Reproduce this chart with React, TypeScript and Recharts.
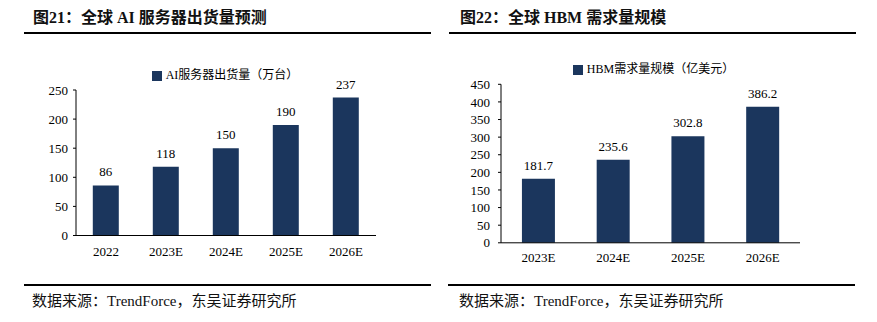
import React from "react";
import { BarChart, Bar, XAxis, YAxis, Legend, LabelList } from "recharts";

const NAVY = "#1B365D";
const SERIF = "'Liberation Serif', 'Times New Roman', 'Noto Sans CJK SC', serif";

// ── data ────────────────────────────────────────────────────────────────────
const serverYears = ["2022", "2023E", "2024E", "2025E", "2026E"];
const serverUnits = [86, 118, 150, 190, 237];
const serverTicks = [0, 50, 100, 150, 200, 250];

const hbmYears = ["2023E", "2024E", "2025E", "2026E"];
const hbmSize = [181.7, 235.6, 302.8, 386.2];
const hbmTicks = [0, 50, 100, 150, 200, 250, 300, 350, 400, 450];

const tickStyle = { fontSize: 13, fill: "#000", fontFamily: SERIF };

function Rule({ left, top, width }: { left: number; top: number; width: number }) {
  return <div style={{ position: "absolute", left, top, width, height: 2, background: "#000" }} />;
}

function Text({ left, top, size, bold, children }: any) {
  return (
    <div
      style={{
        position: "absolute", left, top, fontSize: size, lineHeight: `${size}px`,
        fontWeight: bold ? 700 : 400, color: "#111", whiteSpace: "nowrap", fontFamily: SERIF,
      }}
    >
      {children}
    </div>
  );
}

// ── one panel's bar chart ───────────────────────────────────────────────────
// "a" axis only draws the baseline + tick marks on category boundaries,
// "b" axis carries the category labels underneath it
function PanelChart({
  cats, values, ticks, name, width, height, margin, yWidth, yTickMargin, xTickMargin, legend,
}: {
  cats: string[]; values: number[]; ticks: number[]; name: string;
  width: number; height: number; margin: any; yWidth: number;
  yTickMargin: number; xTickMargin: number; legend: any;
}) {
  const data = cats.map((c, i) => ({ cat: c, v: values[i] }));
  const edges = [...cats.map((_, i) => i), cats.length];
  return (
    <BarChart width={width} height={height} data={data} margin={margin} barCategoryGap="28%">
      <XAxis
        xAxisId="b" dataKey="cat" height={30} axisLine={false} tickLine={false}
        tickSize={0} tickMargin={xTickMargin} tick={tickStyle} interval={0}
      />
      <XAxis
        xAxisId="a" type="number" domain={[0, cats.length]} ticks={edges} allowDataOverflow
        height={1} tick={false} tickSize={3} stroke="#000" tickLine={{ stroke: "#000" }}
      />
      <YAxis
        domain={[0, ticks[ticks.length - 1]]} ticks={ticks} width={yWidth} tickSize={3}
        tickMargin={yTickMargin} tick={tickStyle} stroke="#000" tickLine={{ stroke: "#000" }}
        interval={0}
      />
      <Legend
        verticalAlign="middle" align="center" layout="horizontal" iconType="square" iconSize={10}
        wrapperStyle={{ ...legend, fontSize: 12, fontFamily: SERIF }}
        formatter={(v: string) => <span style={{ color: "#000" }}>{v}</span>}
      />
      <Bar xAxisId="b" dataKey="v" name={name} fill={NAVY} isAnimationActive={false}>
        <LabelList dataKey="v" position="top" offset={9} fill="#000" fontSize={13} fontFamily={SERIF} />
      </Bar>
    </BarChart>
  );
}

export default function App() {
  return (
    <div
      style={{
        position: "absolute", left: 0, top: 0, width: 877, height: 322,
        background: "#fff", overflow: "hidden", fontFamily: SERIF,
      }}
    >
      <Text left={33} top={10} size={16} bold>图21：全球 AI 服务器出货量预测</Text>
      <Text left={460} top={10} size={16} bold>图22：全球 HBM 需求量规模</Text>
      <Rule left={24} top={32} width={407} />
      <Rule left={449} top={32} width={407} />

      <div style={{ position: "absolute", left: 0, top: 40 }}>
        <PanelChart
          cats={serverYears} values={serverUnits} ticks={serverTicks} name="AI服务器出货量（万台）"
          width={440} height={230} margin={{ top: 50, right: 64, bottom: 3.5, left: 0 }}
          yWidth={76} yTickMargin={5} xTickMargin={10.5}
          legend={{ top: 25, left: 80, width: 300 }}
        />
      </div>
      <div style={{ position: "absolute", left: 437, top: 40 }}>
        <PanelChart
          cats={hbmYears} values={hbmSize} ticks={hbmTicks} name="HBM需求量规模（亿美元）"
          width={440} height={240} margin={{ top: 44.3, right: 77, bottom: 6.2, left: 0 }}
          yWidth={64} yTickMargin={8} xTickMargin={9}
          legend={{ top: 19, left: 72, width: 299 }}
        />
      </div>

      <Rule left={24} top={284} width={407} />
      <Rule left={448} top={284} width={407} />
      <Text left={32} top={294} size={15}>数据来源：TrendForce，东吴证券研究所</Text>
      <Text left={459} top={294} size={15}>数据来源：TrendForce，东吴证券研究所</Text>
    </div>
  );
}
